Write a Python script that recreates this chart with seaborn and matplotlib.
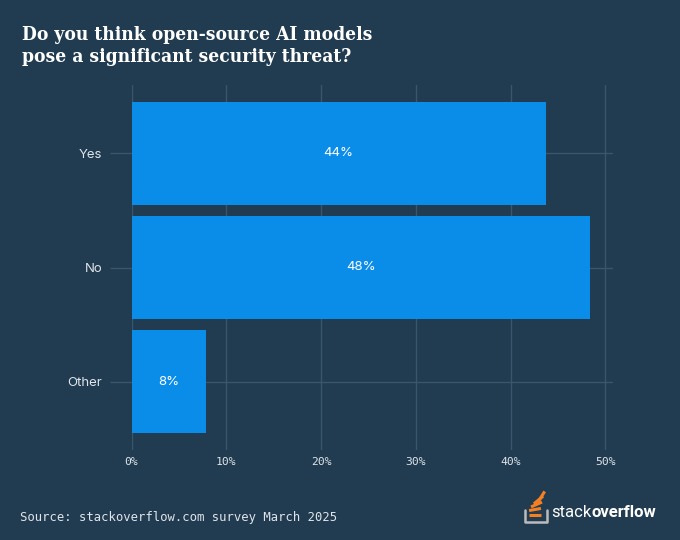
import math
import matplotlib
matplotlib.use("Agg")
import matplotlib.pyplot as plt
from matplotlib.lines import Line2D
import pandas as pd
import seaborn as sns

# survey answers, share of respondents (%)
answers = ["Yes", "No", "Other"]
shares = [43.7, 48.4, 7.9]
bar_labels = ["44%", "48%", "8%"]
x_ticks = [0, 10, 20, 30, 40, 50]
x_tick_labels = ["0%", "10%", "20%", "30%", "40%", "50%"]

BG = "#213b50"
BAR = "#0a8ce9"
GRID = "#3a566c"
TXT = "#dfe5ea"


def px(x, y):
    """pixel coords (680x540 canvas, top-left origin) -> figure fraction"""
    return x / 680, 1 - y / 540


def draw_logo(fig):
    # tray
    xs, ys = zip(*[px(525, 510), px(525, 522), px(546.5, 522), px(546.5, 510)])
    fig.add_artist(Line2D(xs, ys, color="#bcbbbb", lw=1.8, transform=fig.transFigure))
    # orange stack
    for cx, cy, ang in [(534.5, 514.5, 0), (535, 509.5, 10), (536.5, 504.5, 24),
                        (538.5, 500, 40), (541.5, 496.5, 58)]:
        a = math.radians(ang)
        dx, dy = 6 * math.cos(a), 6 * math.sin(a)
        xs, ys = zip(px(cx - dx, cy + dy), px(cx + dx, cy - dy))
        fig.add_artist(Line2D(xs, ys, color="#f48024", lw=2.2, solid_capstyle="butt",
                              transform=fig.transFigure))
    x0, y0 = px(551, 517)
    t = fig.text(x0, y0, "stack", color="white", fontsize=12, family="Roboto",
                 ha="left", va="baseline")
    fig.canvas.draw()
    bb = t.get_window_extent()
    x1 = bb.x1 / fig.bbox.width
    fig.text(x1, y0, "overflow", color="white", fontsize=12, family="Roboto",
             fontweight="bold", ha="left", va="baseline")


def main():
    df = pd.DataFrame({"answer": answers, "share": shares})

    sns.set_style("dark")
    fig = plt.figure(figsize=(6.8, 5.4), dpi=100, facecolor=BG)
    ax = fig.add_axes([131.6 / 680, 1 - 450 / 540, (613 - 131.6) / 680, (450 - 85) / 540])
    ax.set_facecolor(BG)

    sns.barplot(data=df, x="share", y="answer", orient="h", color=BAR,
                width=0.9, saturation=1, linewidth=0, ax=ax, zorder=3)

    ax.set_xlim(0, 50.8)
    ax.set_ylim(2.6, -0.6)
    ax.set_xticks(x_ticks)
    ax.set_xticklabels(x_tick_labels, family="DejaVu Sans Mono", fontsize=8.2, color=TXT)
    ax.tick_params(axis="x", length=0, pad=5)
    ax.tick_params(axis="y", left=True, length=16, width=1, color=GRID, pad=5,
                   labelsize=9.5, labelcolor=TXT)
    for lab in ax.get_yticklabels():
        lab.set_family("Inter")
    ax.grid(True, color=GRID, lw=1, zorder=0)
    ax.set_axisbelow(True)
    for s in ax.spines.values():
        s.set_visible(False)
    ax.set_xlabel("")
    ax.set_ylabel("")

    for i, (v, lab) in enumerate(zip(shares, bar_labels)):
        ax.text(v / 2, i, lab, ha="center", va="center", color="white",
                fontsize=9.5, family="Inter", zorder=4)

    fig.text(22 / 680, 1 - 26 / 540,
             "Do you think open-source AI models\npose a significant security threat?",
             ha="left", va="top", color="white", fontsize=13.8, family="DejaVu Serif",
             fontweight="bold", fontstretch="condensed", linespacing=1.3)

    fig.text(20 / 680, 1 - 521 / 540, "Source: stackoverflow.com survey March 2025",
             ha="left", va="baseline", color=TXT, fontsize=8.8, family="DejaVu Sans Mono")

    draw_logo(fig)

    fig.savefig("out.png", dpi=100, facecolor=BG)


if __name__ == "__main__":
    main()
